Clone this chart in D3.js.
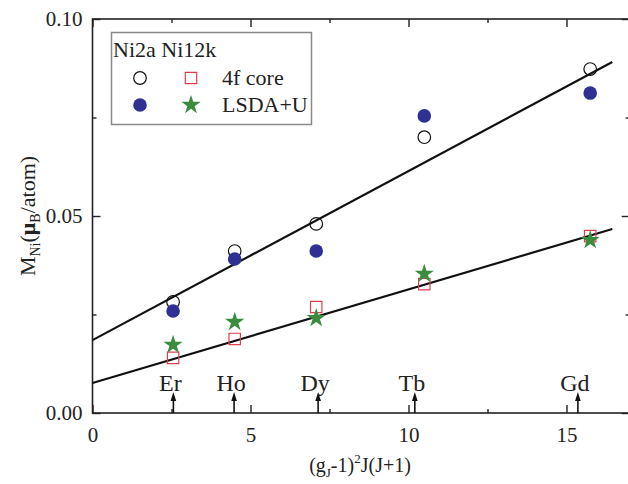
<!DOCTYPE html>
<html>
<head>
<meta charset="utf-8">
<script src="https://cdn.jsdelivr.net/npm/d3@7"></script>
<style>
  body { margin: 0; background: #fff; }
  svg text { font-family: "Liberation Serif", "DejaVu Serif", serif; fill: #222; }
</style>
</head>
<body>
<div id="display"></div>
<script>
// de Gennes factor of each rare earth
var elements = ["Er", "Ho", "Dy", "Tb", "Gd"];
var deGennes = [2.55, 4.5, 7.08, 10.5, 15.75];
var arrowX = [2.56, 4.48, 7.14, 10.2, 15.36];

// Ni moments (muB/atom)
var ni2aCore = [0.0282, 0.0411, 0.0480, 0.0700, 0.0873];
var ni2aLsda = [0.0259, 0.0391, 0.0411, 0.0754, 0.0812];
var ni12kCore = [0.0140, 0.0188, 0.0269, 0.0327, 0.0449];
var ni12kLsda = [0.0173, 0.0231, 0.0241, 0.0353, 0.0439];

// linear fits, endpoints
var fitUpper = [[0, 0.0185], [16.45, 0.0891]];
var fitLower = [[0, 0.0076], [16.45, 0.0467]];

var xTicks = [0, 5, 10, 15];
var yTicks = [0.00, 0.05, 0.10];

var width = 628, height = 484;
var margin = {left: 92.5, top: 19, bottom: 71};

var x = d3.scaleLinear().domain([0, 17]).range([margin.left, margin.left + 17 * 31.6]);
var y = d3.scaleLinear().domain([0, 0.10]).range([height - margin.bottom, margin.top]);

var svg = d3.select("#display").append("svg")
    .attr("width", width)
    .attr("height", height);

var x0 = x.range()[0], x1 = x.range()[1], y0 = y.range()[0], y1 = y.range()[1];

// frame
svg.append("rect")
    .attr("x", x0).attr("y", y1)
    .attr("width", x1 - x0).attr("height", y0 - y1)
    .attr("fill", "none").attr("stroke", "#222").attr("stroke-width", 1.6);

// axes, ticks inward, mirrored
var fmtY = d3.format(".2f");
svg.append("g").attr("transform", `translate(0,${y0})`)
    .call(d3.axisBottom(x).tickValues(xTicks).tickSize(-8).tickPadding(14).tickFormat(d3.format("d")))
    .call(g => g.select(".domain").remove());
svg.append("g").attr("transform", `translate(0,${y0})`)
    .call(d3.axisBottom(x).tickValues([2.5, 7.5, 12.5]).tickSize(-4).tickFormat(""))
    .call(g => g.select(".domain").remove());
svg.append("g").attr("transform", `translate(0,${y1})`)
    .call(d3.axisTop(x).tickValues(xTicks).tickSize(-8).tickFormat(""))
    .call(g => g.select(".domain").remove());
svg.append("g").attr("transform", `translate(0,${y1})`)
    .call(d3.axisTop(x).tickValues([2.5, 7.5, 12.5]).tickSize(-4).tickFormat(""))
    .call(g => g.select(".domain").remove());
svg.append("g").attr("transform", `translate(${x0},0)`)
    .call(d3.axisLeft(y).tickValues(yTicks).tickSize(-8).tickPadding(10).tickFormat(fmtY))
    .call(g => g.select(".domain").remove());
svg.append("g").attr("transform", `translate(${x0},0)`)
    .call(d3.axisLeft(y).tickValues([0.025, 0.075]).tickSize(-4).tickFormat(""))
    .call(g => g.select(".domain").remove());
svg.append("g").attr("transform", `translate(${x1},0)`)
    .call(d3.axisRight(y).tickValues(yTicks).tickSize(-8).tickFormat(""))
    .call(g => g.select(".domain").remove());
svg.append("g").attr("transform", `translate(${x1},0)`)
    .call(d3.axisRight(y).tickValues([0.025, 0.075]).tickSize(-4).tickFormat(""))
    .call(g => g.select(".domain").remove());

svg.selectAll(".tick line").attr("stroke", "#222").attr("stroke-width", 1.4);
svg.selectAll(".tick text").style("font-size", "21px").attr("fill", "#222");

// fit lines
var line = d3.line().x(d => x(d[0])).y(d => y(d[1]));
[fitUpper, fitLower].forEach(function (f) {
  svg.append("path").attr("d", line(f))
      .attr("fill", "none").attr("stroke", "#111").attr("stroke-width", 2.2);
});

// element arrows and labels
elements.forEach(function (el, i) {
  var ax = x(arrowX[i]);
  svg.append("line")
      .attr("x1", ax).attr("x2", ax)
      .attr("y1", y0).attr("y2", y0 - 14)
      .attr("stroke", "#111").attr("stroke-width", 1.6);
  svg.append("path")
      .attr("d", `M${ax},${y0 - 21} L${ax - 2.8},${y0 - 12} L${ax + 2.8},${y0 - 12} Z`)
      .attr("fill", "#111");
  svg.append("text")
      .attr("x", ax - 3).attr("y", y0 - 22)
      .attr("text-anchor", "middle")
      .style("font-size", "24px")
      .text(el);
});

// markers
var symSquare = d3.symbol().type(d3.symbolSquare).size(130);
var symStar = d3.symbol().type(d3.symbolStar).size(115);

function points(vals, draw) {
  vals.forEach(function (v, i) { draw(x(deGennes[i]), y(v)); });
}
points(ni2aCore, function (cx, cy) {
  svg.append("circle").attr("cx", cx).attr("cy", cy).attr("r", 6.3)
      .attr("fill", "none").attr("stroke", "#111").attr("stroke-width", 1.2);
});
points(ni2aLsda, function (cx, cy) {
  svg.append("circle").attr("cx", cx).attr("cy", cy).attr("r", 6.8)
      .attr("fill", "#2e3192");
});
points(ni12kCore, function (cx, cy) {
  svg.append("path").attr("d", symSquare()).attr("transform", `translate(${cx},${cy})`)
      .attr("fill", "none").attr("stroke", "#e0404e").attr("stroke-width", 1.2);
});
points(ni12kLsda, function (cx, cy) {
  svg.append("path").attr("d", symStar()).attr("transform", `translate(${cx},${cy})`)
      .attr("fill", "#3a8d3f");
});

// legend
var lg = svg.append("g");
lg.append("rect").attr("x", 111.5).attr("y", 32.5).attr("width", 200).attr("height", 92)
    .attr("fill", "#fff").attr("stroke", "#888").attr("stroke-width", 1.5);
lg.append("text").attr("x", 113).attr("y", 57).style("font-size", "22px").text("Ni2a Ni12k");
lg.append("circle").attr("cx", 140).attr("cy", 78).attr("r", 6.3)
    .attr("fill", "none").attr("stroke", "#111").attr("stroke-width", 1.2);
lg.append("path").attr("d", symSquare()).attr("transform", "translate(191,78)")
    .attr("fill", "none").attr("stroke", "#e0404e").attr("stroke-width", 1.2);
lg.append("text").attr("x", 222).attr("y", 85).style("font-size", "22px").text("4f core");
lg.append("circle").attr("cx", 140).attr("cy", 105).attr("r", 6.8).attr("fill", "#2e3192");
lg.append("path").attr("d", symStar()).attr("transform", "translate(191,105)").attr("fill", "#3a8d3f");
lg.append("text").attr("x", 222).attr("y", 112).style("font-size", "22px").text("LSDA+U");

// axis titles
var xt = svg.append("text").attr("x", 360).attr("y", 472).attr("text-anchor", "middle")
    .style("font-size", "20px");
xt.append("tspan").text("(g");
xt.append("tspan").attr("dy", 5).style("font-size", "13px").text("J");
xt.append("tspan").attr("dy", -5).text("-1)");
xt.append("tspan").attr("dy", -9).style("font-size", "13px").text("2");
xt.append("tspan").attr("dy", 9).text("J(J+1)");

var yt = svg.append("text")
    .attr("transform", "translate(35,216) rotate(-90)")
    .attr("text-anchor", "middle").style("font-size", "22px");
yt.append("tspan").text("M");
yt.append("tspan").attr("dy", 5).style("font-size", "14px").text("Ni");
yt.append("tspan").attr("dy", -5).text("(");
yt.append("tspan").style("font-weight", "bold").text("\u03bc");
yt.append("tspan").attr("dy", 5).style("font-size", "14px").text("B");
yt.append("tspan").attr("dy", -5).text("/atom)");
</script>
</body>
</html>
